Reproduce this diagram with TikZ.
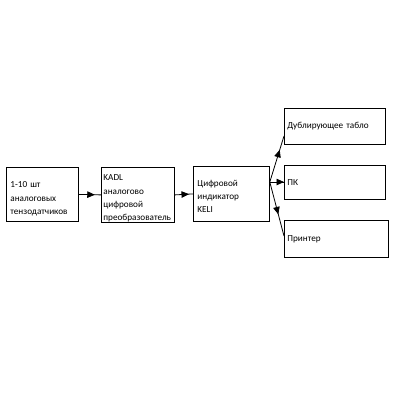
\documentclass[tikz,border=0pt]{standalone}
\usepackage{fontspec}
\setmainfont{Carlito}
\usetikzlibrary{arrows.meta,decorations.markings}
\tikzset{
  box/.style={draw=black, line width=0.8pt, rectangle, anchor=north west, align=left,
    font=\fontsize{9.2}{13.2}\selectfont, inner ysep=0pt},
  conn/.style={line width=0.8pt},
  midarrow/.style={postaction={decorate}, decoration={markings,
    mark=at position #1 with {\arrow{Triangle[length=7.5pt,width=6.5pt]}}}}
}
\begin{document}
\begin{tikzpicture}[x=1pt,y=-1pt]
\useasboundingbox (0,0) rectangle (400,400);
\node[box, minimum width=72pt, minimum height=54pt, text width=64pt, inner xsep=4pt] (b1) at (6,167) {\rule{0pt}{15pt}1-10 шт\\аналоговых\\тензодатчиков};
\node[box, minimum width=71pt, minimum height=55pt, text width=69pt, inner xsep=2pt] (b2) at (101,167) {\rule{0pt}{13pt}KADL\\аналогово\\цифровой\\преобразователь};
\node[box, minimum width=75pt, minimum height=55pt, text width=68pt, inner xsep=4pt] (b3) at (193,166) {\rule{0pt}{11pt}Цифровой\\индикатор\\KELI};
\node[box, minimum width=101pt, minimum height=36pt, text width=95pt, inner xsep=3pt] (b4) at (284,108) {Дублирующее табло};
\node[box, minimum width=101pt, minimum height=34pt, text width=95pt, inner xsep=3pt] (b5) at (284,165) {ПК};
\node[box, minimum width=104pt, minimum height=37pt, text width=98pt, inner xsep=3pt] (b6) at (284,220) {Принтер};
\coordinate (fan) at (b3.east |- 0,182);
\coordinate (t4) at (b4.south west |- 0,136);
\coordinate (t6) at (b6.north west |- 0,236);
\draw[conn, midarrow=0.72] (b1.east) -- (b2.west);
\draw[conn, midarrow=0.78] (b2.east) -- (b3.west);
\draw[conn, midarrow=0.7] (fan) -- (t4);
\draw[conn, midarrow=1] (fan) -- (b5.west |- fan);
\draw[conn, midarrow=0.6] (fan) -- (t6);
\end{tikzpicture}
\end{document}
